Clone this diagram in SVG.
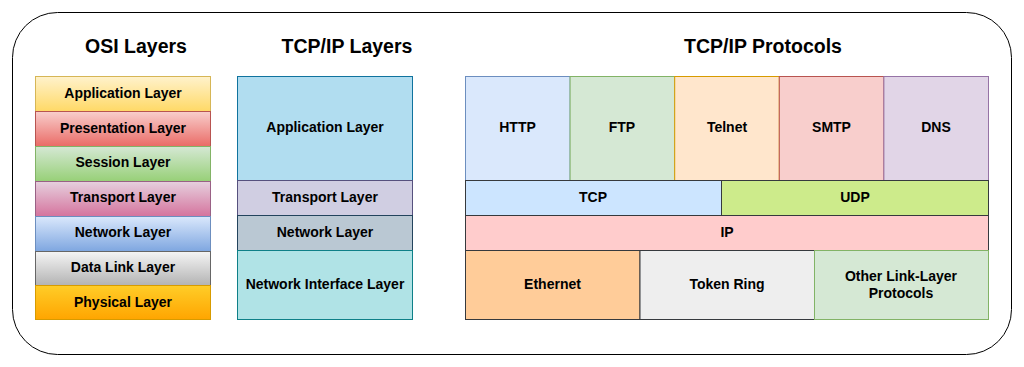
<svg xmlns="http://www.w3.org/2000/svg" width="1024" height="367" viewBox="0 0 1024 367">
<defs>
<linearGradient id="gApp" x1="0" y1="0" x2="0" y2="1"><stop offset="0" stop-color="#fff2cc"/><stop offset="1" stop-color="#ffd966"/></linearGradient>
<linearGradient id="gPres" x1="0" y1="0" x2="0" y2="1"><stop offset="0" stop-color="#f8cecc"/><stop offset="1" stop-color="#ea6b66"/></linearGradient>
<linearGradient id="gSess" x1="0" y1="0" x2="0" y2="1"><stop offset="0" stop-color="#d5e8d4"/><stop offset="1" stop-color="#97d077"/></linearGradient>
<linearGradient id="gTrans" x1="0" y1="0" x2="0" y2="1"><stop offset="0" stop-color="#e6d0de"/><stop offset="1" stop-color="#d5739d"/></linearGradient>
<linearGradient id="gNet" x1="0" y1="0" x2="0" y2="1"><stop offset="0" stop-color="#dae8fc"/><stop offset="1" stop-color="#7ea6e0"/></linearGradient>
<linearGradient id="gData" x1="0" y1="0" x2="0" y2="1"><stop offset="0" stop-color="#f5f5f5"/><stop offset="1" stop-color="#b3b3b3"/></linearGradient>
<linearGradient id="gPhys" x1="0" y1="0" x2="0" y2="1"><stop offset="0" stop-color="#ffcd28"/><stop offset="1" stop-color="#ffa500"/></linearGradient>
</defs>
<style>
text{font-family:"Liberation Sans",Arial,sans-serif;font-weight:bold;fill:#000;text-anchor:middle;}
.t{font-size:14px;}
.h{font-size:19.5px;}
rect{stroke-width:1;}
</style>
<rect id="frame" x="12.5" y="12.5" width="999" height="342" rx="45" ry="45" fill="#fff" stroke="#000" stroke-width="1.2"/>
<text class="h" x="136" y="53">OSI Layers</text>
<text class="h" x="347" y="53">TCP/IP Layers</text>
<text class="h" x="763" y="53">TCP/IP Protocols</text>
<g id="osi">
<g id="osi-app"><rect x="35.5" y="76.5" width="175" height="35" fill="url(#gApp)" stroke="#d6b656"/><text class="t" x="123" y="98">Application Layer</text></g>
<g id="osi-pres"><rect x="35.5" y="111.5" width="175" height="35" fill="url(#gPres)" stroke="#b85450"/><text class="t" x="123" y="133">Presentation Layer</text></g>
<g id="osi-sess"><rect x="35.5" y="146.5" width="175" height="35" fill="url(#gSess)" stroke="#82b366"/><text class="t" x="123" y="167">Session Layer</text></g>
<g id="osi-trans"><rect x="35.5" y="181.5" width="175" height="35" fill="url(#gTrans)" stroke="#996185"/><text class="t" x="123" y="202">Transport Layer</text></g>
<g id="osi-net"><rect x="35.5" y="216.5" width="175" height="35" fill="url(#gNet)" stroke="#6c8ebf"/><text class="t" x="123" y="237">Network Layer</text></g>
<g id="osi-data"><rect x="35.5" y="251.5" width="175" height="34" fill="url(#gData)" stroke="#666666"/><text class="t" x="123" y="272">Data Link Layer</text></g>
<g id="osi-phys"><rect x="35.5" y="285.5" width="175" height="34" fill="url(#gPhys)" stroke="#d79b00"/><text class="t" x="123" y="307">Physical Layer</text></g>
</g>
<g id="tcpip">
<g id="tl-app"><rect x="237.5" y="76.5" width="175" height="104" fill="#b1ddf0" stroke="#10739e"/><text class="t" x="325" y="132">Application Layer</text></g>
<g id="tl-trans"><rect x="237.5" y="180.5" width="175" height="35" fill="#d0cee2" stroke="#56517e"/><text class="t" x="325" y="202">Transport Layer</text></g>
<g id="tl-net"><rect x="237.5" y="215.5" width="175" height="35" fill="#bac8d3" stroke="#23445d"/><text class="t" x="325" y="237">Network Layer</text></g>
<g id="tl-ni"><rect x="237.5" y="250.5" width="175" height="69" fill="#b0e3e6" stroke="#0e8088"/><text class="t" x="325" y="289">Network Interface Layer</text></g>
</g>
<g id="protocols">
<g id="p-http"><rect x="465.5" y="76.5" width="104.6" height="104" fill="#dae8fc" stroke="#6c8ebf"/><text class="t" x="517.5" y="132">HTTP</text></g>
<g id="p-ftp"><rect x="570.1" y="76.5" width="104.6" height="104" fill="#d5e8d4" stroke="#82b366"/><text class="t" x="622" y="132">FTP</text></g>
<g id="p-telnet"><rect x="674.7" y="76.5" width="104.6" height="104" fill="#ffe6cc" stroke="#d79b00"/><text class="t" x="727" y="132">Telnet</text></g>
<g id="p-smtp"><rect x="779.3" y="76.5" width="104.6" height="104" fill="#f8cecc" stroke="#b85450"/><text class="t" x="831.5" y="132">SMTP</text></g>
<g id="p-dns"><rect x="883.9" y="76.5" width="104.6" height="104" fill="#e1d5e7" stroke="#9673a6"/><text class="t" x="936" y="132">DNS</text></g>
<g id="p-tcp"><rect x="465.5" y="180.5" width="256" height="35" fill="#cce5ff" stroke="#36393d"/><text class="t" x="593" y="202">TCP</text></g>
<g id="p-udp"><rect x="721.5" y="180.5" width="267" height="35" fill="#cdeb8b" stroke="#36393d"/><text class="t" x="855" y="202">UDP</text></g>
<g id="p-ip"><rect x="465.5" y="215.5" width="523" height="35" fill="#ffcccc" stroke="#36393d"/><text class="t" x="727" y="237">IP</text></g>
<g id="p-eth"><rect x="465.5" y="250.5" width="174.5" height="69" fill="#ffcc99" stroke="#36393d"/><text class="t" x="552.5" y="289">Ethernet</text></g>
<g id="p-token"><rect x="640" y="250.5" width="174.5" height="69" fill="#eeeeee" stroke="#36393d"/><text class="t" x="727" y="289">Token Ring</text></g>
<g id="p-other"><rect x="814.5" y="250.5" width="174" height="69" fill="#d5e8d4" stroke="#82b366"/><text class="t" x="901" y="281">Other Link-Layer</text><text class="t" x="901" y="298">Protocols</text></g>
</g>
<g id="connectors"/>
</svg>
